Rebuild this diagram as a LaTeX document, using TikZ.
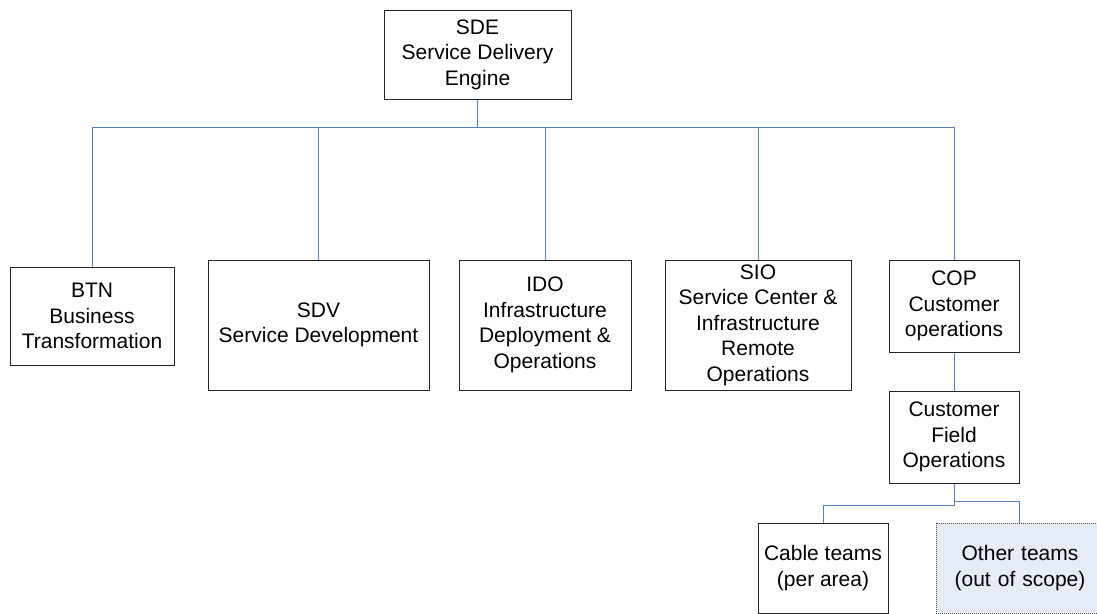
\documentclass[tikz,border=0pt]{standalone}
\usepackage{fontspec}
\setmainfont{Liberation Sans}
\definecolor{conn}{RGB}{79,129,189}
\definecolor{scopefill}{RGB}{230,236,246}
\begin{document}
\begin{tikzpicture}[x=1pt,y=-1pt,
  box/.style={draw=black!85, line width=1pt, align=center, inner sep=0pt,
    font=\fontsize{21}{25.5}\selectfont},
  link/.style={draw=conn, line width=1pt}]
\useasboundingbox (0,0) rectangle (1097,613);
\clip (0,0) rectangle (1097,613);
\node[box, minimum width=187pt, minimum height=89pt] (sde) at (477.5,54.5) {SDE\\Service Delivery\\Engine};
\node[box, minimum width=164pt, minimum height=98pt] (btn) at (92,316) {BTN\\Business\\Transformation};
\node[box, minimum width=221pt, minimum height=130pt] (sdv) at (318.5,325) {SDV\\Service Development};
\node[box, minimum width=172pt, minimum height=130pt] (ido) at (545,325) {IDO\\Infrastructure\\Deployment \&\\Operations};
\node[box, minimum width=186pt, minimum height=130pt] (sio) at (758,325) {SIO\\Service Center \&\\Infrastructure\\Remote\\Operations};
\node[box, minimum width=130pt, minimum height=92pt] (cop) at (954,306) {COP\\Customer\\operations};
\node[box, minimum width=130pt, minimum height=92pt] (cfo) at (954,437) {Customer\\Field\\Operations};
\node[box, minimum width=130pt, minimum height=90pt] (cab) at (823,568) {Cable teams\\(per area)};
\node[box, draw=black!70, densely dotted, fill=scopefill, minimum width=168pt, minimum height=90pt, text width=168pt] (oth) at (1020,568) {Other teams\\(out of scope)};
% connectors
\coordinate (j) at (477.5,127);
\draw[link] (sde.south) -- (j);
\draw[link] (btn.north) -- (92,127) -- (954,127) -- (cop.north);
\draw[link] (sdv.north) -- (318.5,127);
\draw[link] (ido.north) -- (545,127);
\draw[link] (sio.north) -- (758,127);
\draw[link] (cop.south) -- (cfo.north);
\coordinate (k) at (954,501);
\draw[link] (cfo.south) -- (954,505) -- (823,505) -- (cab.north);
\draw[link] (k) -- (1019,501) -- (1019,523);
\end{tikzpicture}
\end{document}
